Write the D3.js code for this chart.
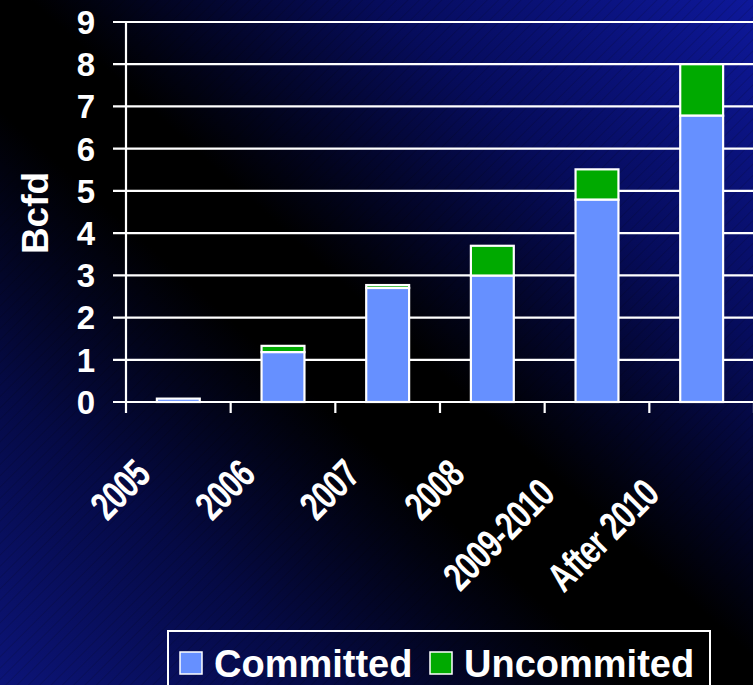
<!DOCTYPE html>
<html><head><meta charset="utf-8">
<script src="https://cdn.jsdelivr.net/npm/d3@7"></script>
<style>
html,body{margin:0;padding:0;background:#000;}
svg{display:block;}
text{font-family:"Liberation Sans",Arial,sans-serif;font-weight:bold;fill:#fff;}
</style></head>
<body>
<script>
const categories = ["2005","2006","2007","2008","2009-2010","After 2010"];
const committed   = [0.08, 1.18, 2.70, 2.99, 4.79, 6.78];
const uncommitted = [0.00, 0.15, 0.07, 0.71, 0.72, 1.22];
const yTicks = [0,1,2,3,4,5,6,7,8,9];
const seriesNames = ["Committed","Uncommited"];
const seriesColors = ["#6690ff","#00aa00"];

const W = 753, H = 685;
const svg = d3.select("body").append("svg").attr("width",W).attr("height",H);
const defs = svg.append("defs");
const grad = defs.append("linearGradient").attr("id","bg")
  .attr("x1",0).attr("y1",1).attr("x2",1).attr("y2",0);
[[0,"#0c1478"],[0.22,"#050a45"],[0.42,"#000000"],[0.52,"#000000"],[0.75,"#060c5c"],[1,"#0e189a"]]
  .forEach(s=>grad.append("stop").attr("offset",s[0]).attr("stop-color",s[1]));
const pat = defs.append("pattern").attr("id","hatch").attr("patternUnits","userSpaceOnUse")
  .attr("width",8).attr("height",8).attr("patternTransform","rotate(45)");
pat.append("line").attr("x1",0).attr("y1",0).attr("x2",0).attr("y2",8)
  .attr("stroke","#000").attr("stroke-width",1.5).attr("stroke-opacity",0.18);
svg.append("rect").attr("width",W).attr("height",H).attr("fill","url(#bg)");
svg.append("rect").attr("width",W).attr("height",H).attr("fill","url(#hatch)");

const x = d3.scaleBand().domain(categories).range([126,754]).paddingInner(0.59).paddingOuter(0.295);
const y = d3.scaleLinear().domain([0,9]).range([402,22]);

const g = svg.append("g");
g.selectAll("line.grid").data(yTicks).join("line")
  .attr("x1",113).attr("x2",W).attr("y1",d=>y(d)).attr("y2",d=>y(d))
  .attr("stroke","#fff").attr("stroke-width",2.2);
g.append("line").attr("x1",126).attr("x2",126).attr("y1",y(9)).attr("y2",y(0))
  .attr("stroke","#fff").attr("stroke-width",2.2);
g.selectAll("text.yt").data(yTicks).join("text")
  .attr("x",95).attr("y",d=>y(d)).attr("dy","0.36em").attr("text-anchor","end")
  .style("font-size","33px").text(d=>d);
const step = x.step();
const bounds = d3.range(categories.length+1).map(i=>126+i*step);
g.selectAll("line.xt").data(bounds).join("line")
  .attr("x1",d=>d).attr("x2",d=>d).attr("y1",y(0)).attr("y2",y(0)+11)
  .attr("stroke","#fff").attr("stroke-width",2.2);

const data = categories.map((c,i)=>({c, a:committed[i], b:uncommitted[i]}));
const bars = svg.append("g");
data.forEach(d=>{
  if(d.b>0){
    bars.append("rect").attr("x",x(d.c)).attr("width",x.bandwidth())
      .attr("y",y(d.a+d.b)).attr("height",y(d.a)-y(d.a+d.b))
      .attr("fill",seriesColors[1]).attr("stroke","#fff").attr("stroke-width",2.2);
  }
  bars.append("rect").attr("x",x(d.c)).attr("width",x.bandwidth())
    .attr("y",y(d.a)).attr("height",y(0)-y(d.a))
    .attr("fill",seriesColors[0]).attr("stroke","#fff").attr("stroke-width",2.2);
});

const xl = svg.append("g");
const sx = 0.75;
categories.forEach(c=>{
  const t = xl.append("text").style("font-size","40px").style("letter-spacing","-1px")
    .attr("text-anchor","end").text(c);
  const L = t.node().getComputedTextLength()*sx;
  const back = 0.33*Math.max(0, L-64);
  const cx = x(c)+x.bandwidth()/2 - 26 - back*0.6;
  const cy = 477 + back*0.8;
  t.attr("transform",`translate(${cx},${cy}) rotate(-45) scale(${sx},1)`);
});

svg.append("text").attr("transform","translate(48,213) rotate(-90)")
  .attr("text-anchor","middle").style("font-size","37px").text("Bcfd");

const lg = svg.append("g");
lg.append("rect").attr("x",168).attr("y",631).attr("width",542).attr("height",80)
  .attr("fill","none").attr("stroke","#fff").attr("stroke-width",2);
const items = [{n:seriesNames[0],c:seriesColors[0],x:180},{n:seriesNames[1],c:seriesColors[1],x:430}];
items.forEach(it=>{
  lg.append("rect").attr("x",it.x).attr("y",652).attr("width",22).attr("height",22)
    .attr("fill",it.c).attr("stroke","#fff").attr("stroke-width",1.5);
  lg.append("text").attr("x",it.x+34).attr("y",677).style("font-size","38px").text(it.n);
});
</script>
</body></html>
